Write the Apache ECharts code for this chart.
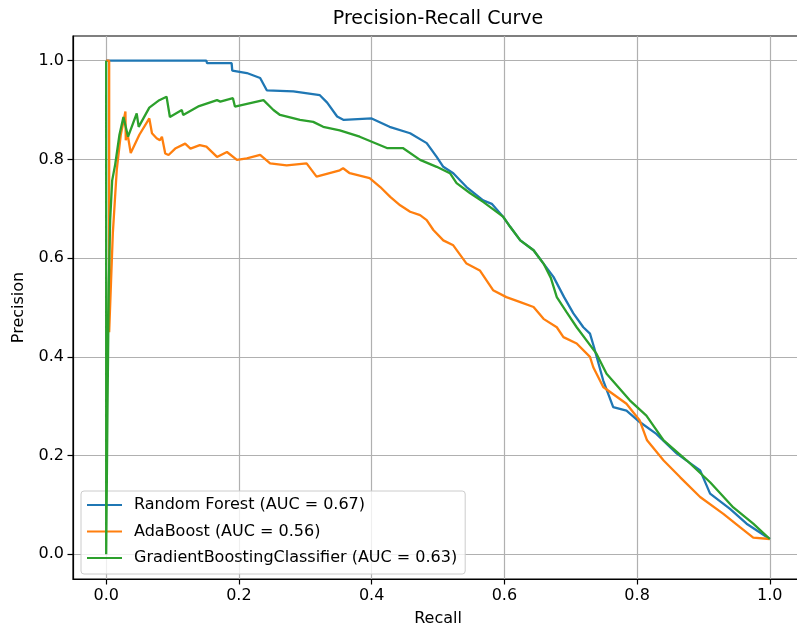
<!DOCTYPE html>
<html>
<head>
<meta charset="utf-8">
<script src="https://cdn.jsdelivr.net/npm/echarts@6/dist/echarts.min.js"></script>
<style>html,body{margin:0;padding:0;background:#fff}#c{width:797px;height:628px}</style>
</head>
<body>
<div id="c"></div>
<script>
const titleText = 'Precision-Recall Curve';
const xName = 'Recall';
const yName = 'Precision';
const tickValues = [0, 0.2, 0.4, 0.6, 0.8, 1.0];
const seriesNames = ['Random Forest (AUC = 0.67)', 'AdaBoost (AUC = 0.56)', 'GradientBoostingClassifier (AUC = 0.63)'];
const seriesColors = ['#1f77b4', '#ff7f0e', '#2ca02c'];

const rfRecall = [0, 0.151, 0.152, 0.189, 0.190, 0.212, 0.232, 0.242, 0.282, 0.322, 0.333, 0.348, 0.358, 0.400, 0.427, 0.458, 0.483, 0.498, 0.508, 0.523, 0.543, 0.568, 0.581, 0.598, 0.609, 0.624, 0.644, 0.659, 0.674, 0.690, 0.704, 0.719, 0.729, 0.735, 0.749, 0.764, 0.784, 0.804, 0.829, 0.860, 0.895, 0.910, 0.940, 0.965, 1.0];
const rfPrecision = [1.0, 1.0, 0.995, 0.995, 0.980, 0.975, 0.965, 0.940, 0.938, 0.930, 0.915, 0.887, 0.880, 0.883, 0.866, 0.853, 0.833, 0.805, 0.785, 0.772, 0.744, 0.717, 0.710, 0.684, 0.663, 0.636, 0.616, 0.589, 0.562, 0.521, 0.488, 0.460, 0.447, 0.420, 0.352, 0.298, 0.291, 0.268, 0.244, 0.204, 0.170, 0.123, 0.092, 0.062, 0.031];

const adaRecall = [0, 0.0045, 0.0045, 0.010, 0.016, 0.022, 0.029, 0.0295, 0.032, 0.037, 0.050, 0.065, 0.069, 0.076, 0.081, 0.084, 0.089, 0.094, 0.104, 0.119, 0.127, 0.141, 0.151, 0.167, 0.182, 0.197, 0.212, 0.232, 0.247, 0.272, 0.302, 0.317, 0.352, 0.357, 0.367, 0.397, 0.413, 0.428, 0.443, 0.458, 0.473, 0.483, 0.493, 0.508, 0.523, 0.543, 0.563, 0.583, 0.603, 0.624, 0.644, 0.659, 0.679, 0.689, 0.709, 0.729, 0.734, 0.749, 0.784, 0.804, 0.815, 0.840, 0.865, 0.895, 0.930, 0.955, 0.975, 1.0];
const adaPrecision = [1.0, 1.0, 0.450, 0.650, 0.780, 0.850, 0.897, 0.839, 0.853, 0.813, 0.850, 0.883, 0.853, 0.843, 0.839, 0.846, 0.812, 0.809, 0.822, 0.832, 0.822, 0.829, 0.826, 0.805, 0.815, 0.799, 0.802, 0.809, 0.792, 0.788, 0.792, 0.765, 0.778, 0.782, 0.772, 0.762, 0.744, 0.724, 0.707, 0.694, 0.687, 0.677, 0.657, 0.636, 0.626, 0.589, 0.575, 0.535, 0.521, 0.511, 0.501, 0.477, 0.460, 0.440, 0.427, 0.400, 0.379, 0.339, 0.305, 0.271, 0.231, 0.190, 0.156, 0.116, 0.082, 0.055, 0.034, 0.031];

const gbRecall = [0, 0, 0.002, 0.004, 0.006, 0.009, 0.0136, 0.020, 0.026, 0.033, 0.046, 0.049, 0.065, 0.080, 0.091, 0.096, 0.114, 0.116, 0.140, 0.167, 0.172, 0.191, 0.194, 0.237, 0.252, 0.262, 0.292, 0.312, 0.327, 0.352, 0.382, 0.423, 0.447, 0.473, 0.498, 0.518, 0.528, 0.548, 0.568, 0.598, 0.609, 0.624, 0.644, 0.659, 0.670, 0.679, 0.694, 0.709, 0.739, 0.754, 0.789, 0.814, 0.840, 0.875, 0.910, 0.945, 0.975, 1.0];
const gbPrecision = [1.0, 0.0, 0.300, 0.550, 0.677, 0.757, 0.790, 0.850, 0.886, 0.846, 0.893, 0.866, 0.905, 0.920, 0.927, 0.886, 0.900, 0.890, 0.908, 0.920, 0.917, 0.924, 0.907, 0.920, 0.900, 0.890, 0.880, 0.876, 0.866, 0.859, 0.846, 0.823, 0.823, 0.799, 0.785, 0.772, 0.752, 0.732, 0.714, 0.684, 0.663, 0.636, 0.616, 0.589, 0.560, 0.521, 0.490, 0.460, 0.406, 0.366, 0.312, 0.281, 0.231, 0.190, 0.146, 0.095, 0.062, 0.031];

function zip(a, b) { return a.map((v, i) => [v, b[i]]); }
const allData = [zip(rfRecall, rfPrecision), zip(adaRecall, adaPrecision), zip(gbRecall, gbPrecision)];

const font = 'DejaVu Sans';
const chart = echarts.init(document.getElementById('c'), null, {renderer: 'canvas'});
chart.setOption({
  animation: false,
  backgroundColor: '#ffffff',
  title: {
    text: titleText, left: 433, top: 5, textAlign: 'center',
    textStyle: {fontFamily: font, fontSize: 19, fontWeight: 'normal', color: '#000'}
  },
  grid: {left: 73, top: 36, right: -6, height: 543, show: true, borderColor: '#000', borderWidth: 1.2, containLabel: false, outerBoundsMode: 'none'},
  legend: {
    orient: 'vertical', left: 81, top: 491,
    data: seriesNames,
    itemWidth: 35, itemHeight: 14, itemGap: 10.5,
    padding: [6, 8, 8, 5],
    itemStyle: {opacity: 0},
    backgroundColor: 'rgba(255,255,255,0.8)', borderColor: '#cccccc', borderWidth: 1, borderRadius: 3,
    textStyle: {fontFamily: font, fontSize: 16, color: '#000', padding: [0, 0, 0, 7]}
  },
  xAxis: {
    type: 'value', min: -0.05, max: 1.05,
    name: xName, nameLocation: 'middle', nameGap: 32,
    nameTextStyle: {fontFamily: font, fontSize: 16, color: '#000'},
    axisLine: {onZero: false, lineStyle: {color: '#000', width: 1.2}},
    axisTick: {customValues: tickValues, length: 5.5, lineStyle: {color: '#000', width: 1.2}},
    axisLabel: {customValues: tickValues, margin: 9, fontFamily: font, fontSize: 16, color: '#000', formatter: v => v.toFixed(1)},
    splitLine: {show: true, lineStyle: {color: '#b0b0b0', width: 1.2}}
  },
  yAxis: {
    type: 'value', min: -0.05, max: 1.05,
    name: yName, nameLocation: 'middle', nameGap: 46, nameRotate: 90,
    nameTextStyle: {fontFamily: font, fontSize: 16, color: '#000'},
    axisLine: {show: true, onZero: false, lineStyle: {color: '#000', width: 1.2}},
    axisTick: {show: true, customValues: tickValues, length: 5.5, lineStyle: {color: '#000', width: 1.2}},
    axisLabel: {customValues: tickValues, margin: 9, fontFamily: font, fontSize: 16, color: '#000', formatter: v => v.toFixed(1)},
    splitLine: {show: true, lineStyle: {color: '#b0b0b0', width: 1.2}}
  },
  series: seriesNames.map((n, i) => ({
    name: n, type: 'line', data: allData[i], symbol: 'none', smooth: false,
    lineStyle: {color: seriesColors[i], width: 2.3}, itemStyle: {color: seriesColors[i]},
    z: 2 + i
  }))
});
</script>
</body>
</html>
